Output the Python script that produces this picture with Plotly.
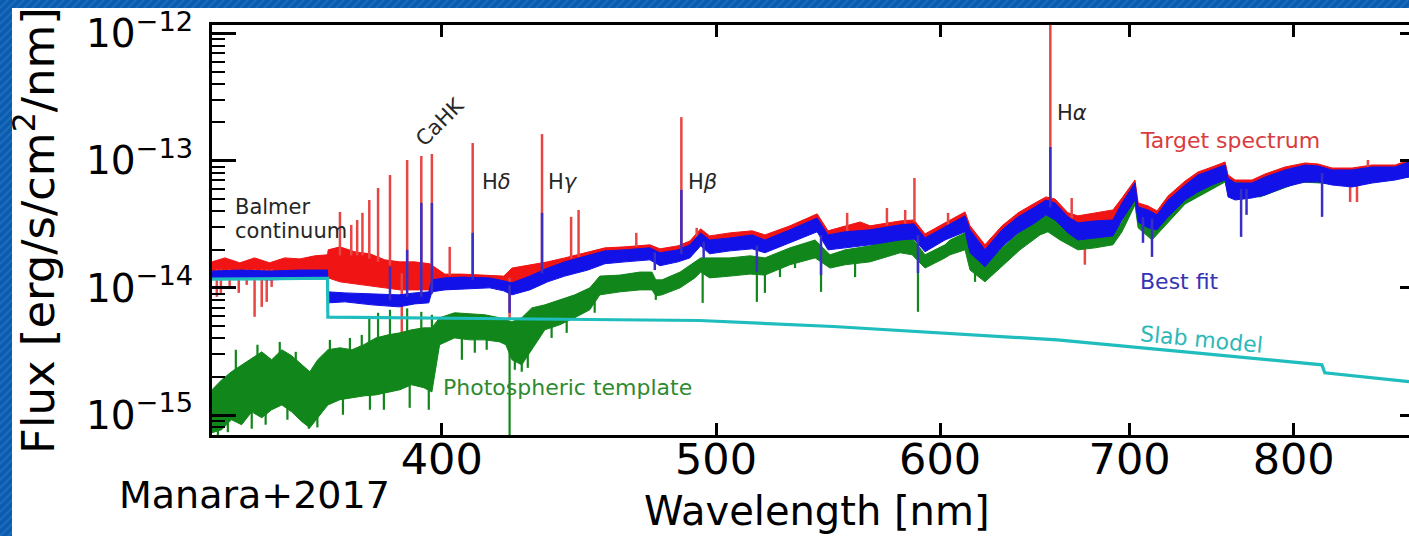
import numpy as np
import plotly.graph_objects as go

# Flux arrays are in units of 1e-14 erg/s/cm^2/nm; wavelengths in nm.
FLUX_UNIT = 1e-14

# ---- Slab model (accretion shock continuum) ----
slab_wl = [331.8, 345.0, 364.5, 364.6, 380.0, 404.2, 450.0, 493.4, 550.0, 602.3,
           660.0, 732.2, 818.6, 820.5, 878.7]
slab_flux = [1.17, 1.18, 1.19, 0.589, 0.585, 0.578, 0.567, 0.554, 0.497, 0.443,
             0.390, 0.314, 0.248, 0.215, 0.183]

# ---- Best fit: upper / lower edge of the noisy band ----
fit_wl = [331.8, 339.4, 347.7, 356.4, 364.5, 364.7, 369.7, 377.9, 386.3, 391.3,
          395.8, 396.8, 401.0, 406.6, 415.9, 420.7, 423.5, 429.7, 436.0, 442.1,
          450.5, 456.8, 464.3, 473.8, 477.7, 484.8, 489.5, 493.8, 497.4, 505.7,
          514.9, 520.3, 531.0, 542.9, 547.7, 555.4, 566.8, 580.8, 587.4, 592.7,
          602.4, 612.3, 614.8, 622.3, 631.0, 639.3, 648.2, 654.0, 658.8, 665.8,
          671.2, 680.6, 690.6, 695.7, 703.1, 704.9, 710.6, 715.8, 722.3, 732.4,
          740.1, 748.6, 756.6, 758.4, 762.8, 773.3, 781.6, 794.4, 807.5, 816.1,
          825.4, 838.9, 852.7, 868.9, 878.7]
fit_hi = [1.355, 1.38, 1.355, 1.38, 1.38, 0.930, 0.913, 0.897, 0.881, 0.913,
          0.930, 1.156, 1.198, 1.215, 1.198, 1.135, 1.095, 1.237, 1.431, 1.601,
          1.787, 1.954, 1.99, 2.065, 1.887, 1.99, 2.18, 2.706, 2.38, 2.467,
          2.61, 2.38, 2.86, 3.546, 2.61, 2.759, 2.86, 3.13, 3.187, 2.467,
          3.019, 3.683, 2.86, 1.99, 2.86, 3.617, 4.331, 4.91, 4.655, 3.617,
          3.245, 3.359, 3.42, 4.655, 6.676, 4.331, 4.10, 3.75, 4.91, 6.44,
          7.72, 8.45, 9.25, 7.309, 6.676, 6.676, 7.447, 8.45, 9.25, 9.085,
          8.45, 8.45, 8.923, 8.923, 9.771]
fit_lo = [1.177, 1.177, 1.156, 1.177, 1.177, 0.762, 0.776, 0.735, 0.709, 0.748,
          0.762, 0.930, 0.964, 0.982, 1.0, 0.947, 0.881, 0.964, 1.115, 1.237,
          1.38, 1.548, 1.601, 1.66, 1.493, 1.601, 1.721, 2.141, 1.853, 1.954,
          2.026, 1.887, 2.26, 2.759, 1.99, 2.063, 2.18, 2.38, 2.423, 1.92,
          2.38, 2.759, 1.887, 1.466, 2.103, 2.706, 3.245, 3.75, 3.42, 2.706,
          2.38, 2.467, 2.563, 3.42, 4.91, 3.299, 2.965, 2.86, 3.617, 4.91,
          5.682, 6.44, 7.05, 5.19, 4.91, 5.09, 5.38, 6.212, 6.80, 6.80,
          6.44, 6.212, 6.676, 7.05, 7.447]
# narrow emission lines and absorption dips of the best fit
fit_line_wl = [383.5, 388.9, 393.4, 396.8, 410.2, 434.0, 486.1, 656.3,
               422.7, 475.7, 495.0, 516.9, 544.6, 589.3, 707.7, 712.9, 766.5, 769.9, 818.7]
fit_line_from = [0.80, 0.85, 0.85, 0.90, 1.15, 1.30, 1.85, 4.3,
                 1.05, 1.9, 2.3, 2.15, 2.6, 2.6, 3.6, 3.5, 6.0, 6.0, 8.0]
fit_line_to = [1.466, 1.99, 4.655, 4.655, 2.706, 3.888, 5.89, 12.81,
               0.636, 1.38, 1.721, 1.331, 1.26, 1.306, 2.26, 1.752, 2.518, 3.75, 3.617]

# ---- Target spectrum ----
target_wl = [331.8, 335.3, 339.4, 343.5, 347.7, 352.0, 356.4, 360.8, 364.5, 364.7,
             368.2, 372.7, 377.3, 381.9, 386.6, 391.3, 396.1, 401.0, 406.6, 415.9,
             420.7, 423.5, 429.7, 436.0, 442.1, 450.5, 456.8, 464.3, 473.8, 477.7,
             484.8, 489.5, 493.8, 497.4, 505.7, 514.9, 520.3, 531.0, 542.9, 547.7,
             555.4, 562.2, 566.8, 580.8, 587.4, 592.7, 602.4, 612.3, 614.8, 622.3,
             631.0, 639.3, 648.2, 654.0, 658.8, 665.8, 671.2, 680.6, 690.6, 695.7,
             703.1, 704.9, 710.6, 715.8, 722.3, 732.4, 740.1, 748.6, 756.6, 758.4,
             762.8, 773.3, 781.6, 794.4, 807.5, 816.1, 825.4, 838.9, 852.7, 868.9,
             878.7]
target_hi = [1.601, 1.721, 1.573, 1.721, 1.573, 1.721, 1.690, 1.787, 1.82, 1.99,
             2.101, 1.920, 1.853, 1.66, 1.601, 1.601, 1.548, 1.283, 1.283, 1.26,
             1.237, 1.431, 1.52, 1.601, 1.721, 1.920, 2.063, 2.101, 2.18, 2.026,
             2.141, 2.337, 2.912, 2.563, 2.706, 2.809, 2.61, 3.074, 3.818, 2.809,
             3.074, 3.299, 3.074, 3.359, 3.42, 2.657, 3.245, 3.955, 3.074, 2.18,
             3.074, 3.888, 4.655, 5.19, 4.999, 3.888, 3.683, 3.888, 4.10, 5.09,
             7.05, 4.655, 4.41, 4.027, 5.284, 6.924, 8.151, 8.923, 9.771, 7.72,
             7.05, 7.05, 7.861, 8.923, 9.597, 9.418, 8.76, 8.76, 9.25, 9.25,
             10.13]
target_lo = [1.237, 1.237, 1.237, 1.237, 1.237, 1.237, 1.237, 1.237, 1.237, 1.198,
             1.115, 1.075, 1.037, 1.0, 0.964, 0.964, 0.964, 1.037, 1.037, 1.037,
             1.0, 1.0, 1.075, 1.156, 1.283, 1.493, 1.601, 1.66, 1.721, 1.601,
             1.721, 1.853, 2.26, 1.99, 2.103, 2.18, 1.99, 2.38, 2.965, 2.18,
             2.38, 2.563, 2.38, 2.61, 2.657, 2.063, 2.518, 3.074, 2.38, 1.66,
             2.38, 3.019, 3.617, 4.10, 3.888, 3.019, 2.86, 3.019, 3.187, 3.955,
             5.478, 3.617, 3.42, 3.13, 4.10, 5.38, 6.325, 6.924, 7.582, 5.997,
             5.478, 5.478, 6.106, 6.924, 7.447, 7.309, 6.80, 6.80, 7.178, 7.178,
             7.861]
# emission lines (Balmer series, Ca II H&K, He I, Ca II IRT) and sharp dips
target_line_wl = [333.1, 334.2, 336.6, 339.1, 341.3, 343.5, 345.5, 346.9, 348.3,
                  368.2, 371.6, 373.4, 375.0, 377.1, 379.8, 383.5, 387.2, 388.9,
                  393.4, 396.8, 402.6, 410.2, 422.7, 434.0, 444.4, 447.1, 468.6,
                  486.1, 492.2, 556.3, 574.6, 583.2, 587.6, 603.9, 656.3, 667.8,
                  675.0, 837.6, 842.3, 849.8, 854.2]
target_line_from = [1.4, 1.4, 1.4, 1.4, 1.4, 1.4, 1.4, 1.4, 1.4,
                    1.8, 1.8, 1.8, 1.8, 1.7, 1.6, 1.5, 1.3, 1.5,
                    1.4, 1.4, 1.25, 1.2, 1.2, 1.45, 1.7, 1.75, 2.1,
                    2.1, 2.4, 2.8, 3.1, 3.2, 3.3, 3.1, 5.0, 3.5,
                    3.2, 7.5, 7.5, 8.5, 8.5]
target_line_to = [0.850, 0.913, 1.0, 0.913, 1.056, 0.592, 0.709, 0.776, 1.018,
                  3.955, 3.13, 3.42, 3.888, 4.91, 6.106, 7.72, 0.376, 10.13,
                  10.89, 11.29, 2.101, 13.77, 0.58, 16.2, 3.617, 4.10, 2.706,
                  22.0, 2.965, 3.888, 4.25, 4.10, 7.309, 3.888, 140.0, 5.09,
                  1.52, 4.736, 4.736, 10.13, 8.76]

# ---- Photospheric template ----
template_wl = [331.8, 334.4, 337.1, 339.9, 342.7, 345.5, 348.3, 351.2, 354.0, 357.0,
               359.3, 361.6, 364.6, 368.2, 371.8, 375.4, 379.1, 382.9, 386.6, 390.3,
               394.2, 396.8, 399.3, 404.2, 409.2, 414.3, 419.3, 421.4, 423.5, 426.9,
               430.4, 435.0, 440.3, 445.7, 451.2, 454.9, 462.4, 470.0, 474.6, 476.1,
               478.5, 485.6, 491.5, 493.8, 497.4, 505.7, 514.1, 520.3, 531.0, 542.0,
               548.6, 555.4, 566.8, 580.8, 586.5, 592.7, 602.4, 604.9, 612.3, 614.8,
               622.3, 630.0, 640.3, 650.8, 655.0, 661.5, 671.2, 680.6, 690.6, 695.7,
               703.1, 704.9, 712.9, 720.5, 732.4, 756.6, 758.4, 778.4, 804.2, 830.8,
               878.7]
template_hi = [0.158, 0.189, 0.219, 0.248, 0.282, 0.314, 0.272, 0.326, 0.293, 0.248,
               0.219, 0.272, 0.326, 0.338, 0.326, 0.357, 0.404, 0.427, 0.443, 0.468,
               0.485, 0.485, 0.582, 0.637, 0.625, 0.614, 0.582, 0.561, 0.541, 0.582,
               0.696, 0.735, 0.805, 0.881, 1.0, 1.237, 1.26, 1.331, 1.331, 1.156,
               1.156, 1.331, 1.601, 1.721, 1.721, 1.721, 1.787, 1.721, 2.063, 2.38,
               1.82, 1.99, 2.141, 2.518, 2.467, 1.82, 2.18, 2.38, 2.706, 1.99,
               1.601, 1.99, 2.759, 3.546, 3.75, 3.299, 2.61, 2.61, 2.657, 3.299,
               5.38, 3.75, 2.965, 3.955, 5.682, 8.151, 6.80, 6.44, 8.45, 8.151,
               9.085]
template_lo = [0.0726, 0.0766, 0.0918, 0.0839, 0.106, 0.0952, 0.110, 0.120, 0.106, 0.0886,
               0.0794, 0.0952, 0.120, 0.132, 0.137, 0.1414, 0.144, 0.152, 0.158, 0.173,
               0.164, 0.152, 0.357, 0.404, 0.390, 0.390, 0.376, 0.357, 0.272, 0.248,
               0.326, 0.468, 0.512, 0.582, 0.672, 0.881, 0.930, 0.964, 0.964, 0.865,
               0.881, 1.0, 1.198, 1.331, 1.198, 1.237, 1.283, 1.26, 1.52, 1.721,
               1.431, 1.52, 1.601, 1.887, 1.82, 1.431, 1.721, 1.82, 1.99, 1.38,
               1.115, 1.431, 1.99, 2.61, 2.759, 2.38, 1.99, 2.063, 2.18, 2.759,
               4.49, 2.965, 2.38, 3.074, 4.572, 6.80, 5.38, 5.19, 6.80, 6.557,
               7.447]
template_line_wl = [333.4, 338.9, 342.7, 359.0, 361.5, 377.1, 379.8, 381.6, 383.5, 388.9,
                    393.4, 395.8, 396.8, 406.6, 410.9, 414.9, 422.7, 424.5, 426.9, 429.0,
                    437.4, 442.8, 453.0, 476.1, 494.6, 516.9, 520.3, 526.7, 533.2, 544.6,
                    559.9, 589.3, 617.3,
                    338.3, 344.3, 350.6, 355.2, 365.2, 371.2, 374.8,
                    336.1, 346.6, 352.8, 369.1, 377.3, 389.7]
template_line_from = [0.12, 0.13, 0.15, 0.13, 0.13, 0.30, 0.32, 0.3, 0.34, 0.35,
                      0.36, 0.33, 0.36, 0.5, 0.5, 0.5, 0.45, 0.42, 0.42, 0.42,
                      0.6, 0.7, 0.9, 1.1, 1.5, 1.5, 1.5, 1.8, 1.9, 2.0,
                      1.9, 2.0, 1.6,
                      0.15, 0.2, 0.2, 0.2, 0.2, 0.22, 0.24,
                      0.12, 0.17, 0.17, 0.2, 0.22, 0.25]
template_line_to = [0.06, 0.0918, 0.078, 0.078, 0.08, 0.582, 0.637, 0.110, 0.672, 0.69,
                    0.648, 0.110, 0.614, 0.272, 0.309, 0.326, 0.05, 0.227, 0.219, 0.235,
                    0.404, 0.443, 0.637, 0.805, 0.762, 0.776, 0.913, 1.215, 1.431, 0.930,
                    1.215, 0.648, 1.115,
                    0.326, 0.357, 0.376, 0.314, 0.390, 0.404, 0.427,
                    0.0733, 0.0839, 0.0918, 0.1005, 0.110, 0.114]

Y_TICKS = [1e-15, 1e-14, 1e-13, 1e-12]
Y_TICK_TEXT = ["10<sup>\u221215</sup>", "10<sup>\u221214</sup>",
               "10<sup>\u221213</sup>", "10<sup>\u221212</sup>"]
X_TICKS = [400, 500, 600, 700, 800]

RED, GREEN, BLUE, CYAN = "#f01414", "#11861a", "#1212e8", "#1fbdbd"

FONT = "DejaVu Sans"
W, H = 1409, 536
X0, X1, Y0, Y1 = 212, 1409, 25, 435  # plot area in page pixels


def px(x):
    return (x - X0) / (X1 - X0)


def py(y):
    return (Y1 - y) / (Y1 - Y0)


def band(wl, hi, lo, color, name):
    xs = list(wl) + list(wl)[::-1]
    ys = [v * FLUX_UNIT for v in hi] + [v * FLUX_UNIT for v in lo][::-1]
    return go.Scatter(x=xs, y=ys, mode="lines", fill="toself", fillcolor=color,
                      line=dict(color=color, width=1), name=name, hoverinfo="skip",
                      showlegend=False)


def spikes(wl, start, end, color, width, name):
    xs, ys = [], []
    for w, a, b in zip(wl, start, end):
        xs += [w, w, None]
        ys += [a * FLUX_UNIT, b * FLUX_UNIT, None]
    return go.Scatter(x=xs, y=ys, mode="lines", line=dict(color=color, width=width),
                      name=name, hoverinfo="skip", showlegend=False)


fig = go.Figure()
fig.add_trace(band(target_wl, target_hi, target_lo, RED, "Target spectrum"))
fig.add_trace(spikes(target_line_wl, target_line_from, target_line_to, "#e84545", 2.5, "target lines"))
fig.add_trace(band(template_wl, template_hi, template_lo, GREEN, "Photospheric template"))
fig.add_trace(spikes(template_line_wl, template_line_from, template_line_to, GREEN, 2.2, "template lines"))
fig.add_trace(band(fit_wl, fit_hi, fit_lo, BLUE, "Best fit"))
fig.add_trace(spikes(fit_line_wl, fit_line_from, fit_line_to, "#3a2fc4", 2.5, "fit lines"))
fig.add_trace(go.Scatter(x=slab_wl, y=[v * FLUX_UNIT for v in slab_flux], mode="lines",
                         line=dict(color=CYAN, width=3.2), name="Slab model",
                         hoverinfo="skip", showlegend=False))
# carrier for the right-hand tick marks
fig.add_trace(go.Scatter(x=[], y=[], yaxis="y2", showlegend=False, hoverinfo="skip"))

y_range = [-15.157, -11.933]
minor_vals = [k * 10.0 ** e for e in range(-16, -11) for k in range(2, 10)]

fig.update_layout(
    width=W, height=H,
    margin=dict(l=X0, r=W - X1, t=Y0, b=H - Y1, pad=0),
    paper_bgcolor="#0b5cad",
    plot_bgcolor="white",
    font=dict(family=FONT, color="black"),
    showlegend=False,
    xaxis=dict(type="log", range=[np.log10(331.8), np.log10(878.7)],
               tickmode="array", tickvals=X_TICKS, ticktext=[str(v) for v in X_TICKS],
               ticks="inside", ticklen=12, tickwidth=2.5, tickcolor="black",
               showline=True, linecolor="black", linewidth=3, mirror="ticks",
               showgrid=False, zeroline=False, ticklabelstandoff=-16,
               tickfont=dict(family=FONT, size=43, color="black")),
    yaxis=dict(type="log", range=y_range, tickmode="array", tickvals=Y_TICKS,
               ticktext=Y_TICK_TEXT, ticks="inside", ticklen=24, tickwidth=2.5,
               tickcolor="black", showline=True, linecolor="black", linewidth=3,
               mirror=False, showgrid=False, zeroline=False, ticklabelstandoff=8,
               tickfont=dict(family=FONT, size=39, color="black"),
               minor=dict(ticks="inside", ticklen=13, tickwidth=2, tickcolor="black",
                          tickmode="array", tickvals=minor_vals, showgrid=False)),
    yaxis2=dict(type="log", range=y_range, overlaying="y", side="right", anchor="x",
                tickmode="array", tickvals=Y_TICKS, ticks="inside", ticklen=9,
                tickwidth=2.5, tickcolor="black", showticklabels=False,
                showline=False, showgrid=False, zeroline=False),
)

# slide background: diagonal hatch and the white panel behind the chart
stripes = []
for k in range(-H, W + 8, 8):
    stripes.append("M %.5f %.5f L %.5f %.5f" % (px(k), py(H), px(k + H), py(0)))
fig.add_shape(type="path", path=" ".join(stripes), xref="paper", yref="paper",
              line=dict(color="#1c6cc0", width=2), layer="below")
fig.add_shape(type="rect", xref="paper", yref="paper", x0=px(12), x1=px(W + 2),
              y0=py(H + 2), y1=py(8), fillcolor="white", line=dict(width=0), layer="below")


def label(text, x, y, size=22, color="#262626", xanchor="left", angle=0):
    fig.add_annotation(text=text, x=px(x), y=py(y), xref="paper", yref="paper",
                       showarrow=False, xanchor=xanchor, yanchor="middle",
                       textangle=angle, font=dict(family=FONT, size=size, color=color))


label("Balmer", 233, 207, size=21)
label("continuum", 233, 231, size=21)
label("CaHK", 440, 122, size=21, xanchor="center", angle=-45)
label("H<i>\u03b4</i>", 480, 182, size=21)
label("H<i>\u03b3</i>", 546, 182, size=21)
label("H<i>\u03b2</i>", 686, 182, size=21)
label("H<i>\u03b1</i>", 1055, 113, size=21)
label("Target spectrum", 1138, 140, color="#d83c40")
label("Best fit", 1138, 281, color="#3434b4")
label("Slab model", 1201, 339, color="#2db8b8", xanchor="center", angle=5.5)
label("Photospheric template", 441, 387, color="#2e8a30")
label("Wavelength [nm]", 817, 511, size=40, color="black", xanchor="center")
label("Flux [erg/s/cm<sup>2</sup>/nm]", 35, 231, size=45, color="black",
      xanchor="center", angle=-90)
label("Manara+2017", 117, 495, size=38, color="black")

fig.write_html("out.html")
